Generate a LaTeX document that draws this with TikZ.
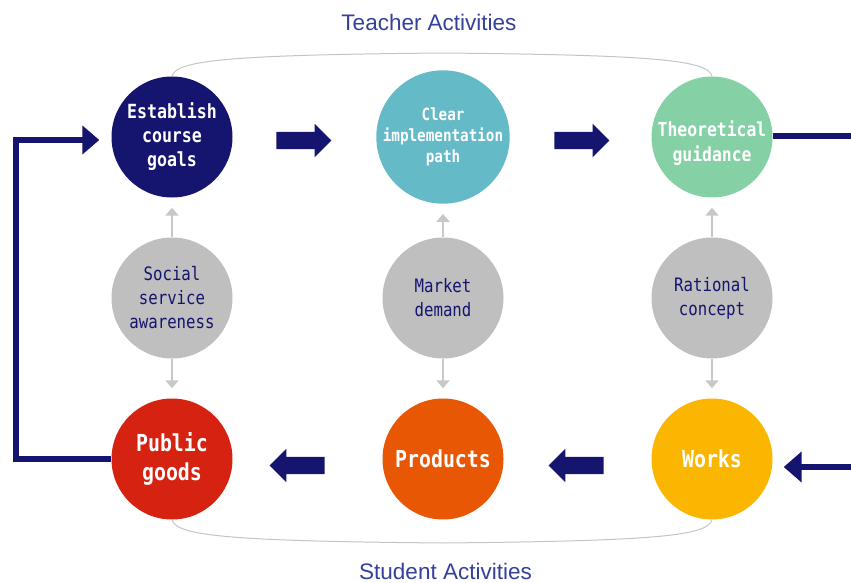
\documentclass[tikz,border=0pt]{standalone}
\usepackage{fontspec}
\usetikzlibrary{arrows.meta,shapes.arrows,calc}
\newfontfamily\circfont[FakeStretch=0.85]{DejaVu Sans Mono}
\newfontfamily\titlefont{Liberation Sans}
\definecolor{navy}{HTML}{15146E}
\definecolor{cteal}{HTML}{65BAC8}
\definecolor{cgreen}{HTML}{86D0A6}
\definecolor{cgray}{HTML}{BFBFBF}
\definecolor{cred}{HTML}{D62210}
\definecolor{corange}{HTML}{E85703}
\definecolor{cyellow}{HTML}{FBB602}
\definecolor{titlecol}{HTML}{34409A}
\definecolor{garrow}{HTML}{C8C8C8}
\definecolor{arccol}{HTML}{C4C4C4}
\begin{document}
\begin{tikzpicture}[x=1pt,y=-1pt,
  circ/.style={circle,minimum size=121pt,inner sep=0pt,align=center,text=white},
  wtext/.style 2 args={font={\circfont\bfseries\fontsize{#1}{#2}\selectfont}},
  gcirc/.style={circ,fill=cgray,text=navy,font={\circfont\fontsize{18.5}{24}\selectfont}},
  blockarrow/.style={single arrow,fill=navy,draw=none,minimum height=55pt,minimum width=0pt,
    single arrow head extend=8pt,single arrow head indent=0pt,inner xsep=0pt,inner ysep=8.5pt,
    text height=0pt,text depth=0pt,anchor=center},
  loopline/.style={draw=navy,line width=6pt},
  garr/.style={draw=garrow,line width=2.4pt,-{Triangle[length=8pt,width=13pt]},shorten >=10pt},
  arcline/.style={draw=arccol,line width=1pt},
  titletext/.style={font={\titlefont\fontsize{22.5}{26}\selectfont},text=titlecol}]
\useasboundingbox (0,0) rectangle (851,583);

% main circles
\node[circ,fill=navy,wtext={19.5}{24}] (estab) at (172,137) {Establish\\course\\goals};
\node[circ,fill=cteal,wtext={16.8}{21}] (clear) at (443,137) {Clear\\implementation\\path};
\node[circ,fill=cgreen] (theo) at (712,137) {};
\node[text=white,align=center,inner sep=0pt,wtext={19.3}{25}] (theolbl) at ($(theo)+(0,6)$) {Theoretical\\guidance};
\node[gcirc] (social) at (172,298) {Social\\service\\awareness};
\node[gcirc] (market) at (443,298) {Market\\demand};
\node[gcirc] (rational) at (712,298) {Rational\\concept};
\node[circ,fill=cred,wtext={23.4}{29}] (pub) at (172,459) {Public\\goods};
\node[circ,fill=corange,wtext={23.4}{29}] (prod) at (443,459) {Products};
\node[circ,fill=cyellow,wtext={23.4}{29}] (works) at (712,459) {Works};

% block arrows
\node[blockarrow] (a1) at (299.5,140.5) {};
\node[blockarrow] (a2) at (577.5,140.5) {};
\node[blockarrow,shape border rotate=180] (a3) at (301.5,465.5) {};
\node[blockarrow,shape border rotate=180] (a4) at (580.5,465.5) {};

% gray arrows
\draw[garr] (social.north) -- (estab.south);
\draw[garr] (social.south) -- (pub.north);
\draw[garr] (market.north) -- (clear.south);
\draw[garr] (market.south) -- (prod.north);
\draw[garr] (rational.north) -- (theo.south);
\draw[garr] (rational.south) -- (works.north);

% loop back on the left
\coordinate (lb) at (15.5,459);
\coordinate (lt) at (15.5,140);
\draw[loopline,-{Triangle[length=17pt,width=28pt]},shorten >=12pt]
  (pub.west) -- (lb) -- (lt) -- (estab.west |- lt);

% lines on the right
\coordinate (rt) at (851,136);
\coordinate (rb) at (851,467);
\draw[loopline] (theo.east |- rt) -- (rt);
\draw[loopline,-{Triangle[length=18pt,width=30pt]},shorten >=11pt] (rb) -- (works.east |- rb);

% arcs
\draw[arcline] (estab.north) .. controls (176,60) and (230,55) .. (442,53)
  .. controls (654,55) and (708,60) .. (theo.north);
\draw[arcline] (pub.south) .. controls (176,536) and (230,541) .. (442,543)
  .. controls (654,541) and (708,536) .. (works.south);

% titles
\node[titletext] (teacher) at (429,22) {Teacher Activities};
\node[titletext] (student) at (445.5,571) {Student Activities};
\end{tikzpicture}
\end{document}
